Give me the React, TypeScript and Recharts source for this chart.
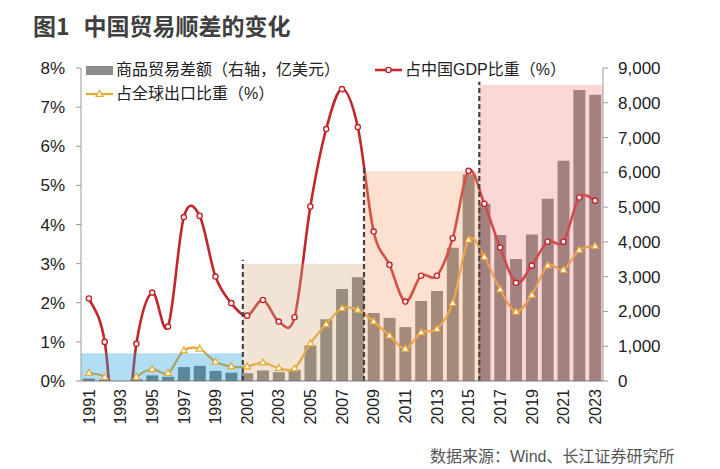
import React from 'react';
import { ComposedChart, Bar, Line, XAxis, YAxis, ReferenceArea, ReferenceLine } from 'recharts';

const years = [1991, 1992, 1993, 1994, 1995, 1996, 1997, 1998, 1999, 2000, 2001, 2002, 2003, 2004, 2005, 2006, 2007, 2008, 2009, 2010, 2011, 2012, 2013, 2014, 2015, 2016, 2017, 2018, 2019, 2020, 2021, 2022, 2023];
// 商品贸易差额（亿美元）
const tradeBalance = [70, 44, -122, 54, 160, 120, 400, 435, 290, 240, 225, 304, 255, 321, 1020, 1775, 2643, 2981, 1957, 1815, 1549, 2303, 2590, 3830, 5939, 5100, 4196, 3509, 4211, 5240, 6330, 8370, 8230];
// 占中国GDP比重（%）
const gdpShare = [2.11, 1.0, -2.7, 0.95, 2.26, 1.39, 4.19, 4.22, 2.67, 1.99, 1.67, 2.07, 1.52, 1.63, 4.46, 6.44, 7.46, 6.49, 3.82, 2.97, 2.03, 2.69, 2.69, 3.65, 5.37, 4.53, 3.41, 2.51, 2.95, 3.56, 3.56, 4.69, 4.61];
// 占全球出口比重（%）
const exportShare = [0.2, 0.1, -0.4, 0.1, 0.3, 0.2, 0.78, 0.82, 0.49, 0.37, 0.37, 0.47, 0.33, 0.32, 0.96, 1.45, 1.86, 1.82, 1.52, 1.16, 0.82, 1.24, 1.33, 1.99, 3.61, 3.17, 2.34, 1.77, 2.2, 2.95, 2.84, 3.35, 3.45];

const xTicks = [1991, 1993, 1995, 1997, 1999, 2001, 2003, 2005, 2007, 2009, 2011, 2013, 2015, 2017, 2019, 2021, 2023];
const leftTicks = [0, 1, 2, 3, 4, 5, 6, 7, 8];
const rightTicks = [0, 1000, 2000, 3000, 4000, 5000, 6000, 7000, 8000, 9000];

// 阶段划分
const periodStart = [1990.5, 2000.73, 2008.39, 2015.68];
const periodEnd = [2000.73, 2008.39, 2015.68, 2023.5];
const periodTop = [0.71, 3.0, 5.37, 7.57];
const periodColor = ['#23a1e0', '#d7b284', '#f6a679', '#f19090'];
const dividerYears = [2000.73, 2008.39, 2015.68];
const dividerTop = [3.1, 5.5, 7.65];

const rows = years.map((year, i) => ({
  year,
  balance: tradeBalance[i],
  gdp: gdpShare[i],
  exp: exportShare[i],
}));

const FONT = "'Liberation Sans', 'Noto Sans CJK SC', sans-serif";
const RED = '#C3252C';
const GOLD = '#E8A82E';

const smoothCurve: any = (context: any) => {
  let pts: number[][] = [];
  return {
    areaStart() {},
    areaEnd() {},
    lineStart() {
      pts = [];
    },
    point(x: number, y: number) {
      pts.push([+x, +y]);
    },
    lineEnd() {
      const n = pts.length;
      if (!n) return;
      context.moveTo(pts[0][0], pts[0][1]);
      for (let i = 0; i < n - 1; i++) {
        const p0 = pts[i - 1] || pts[i];
        const p1 = pts[i];
        const p2 = pts[i + 1];
        const p3 = pts[i + 2] || p2;
        context.bezierCurveTo(
          p1[0] + (p2[0] - p0[0]) / 6,
          p1[1] + (p2[1] - p0[1]) / 6,
          p2[0] - (p3[0] - p1[0]) / 6,
          p2[1] - (p3[1] - p1[1]) / 6,
          p2[0],
          p2[1]
        );
      }
    },
  };
};

const CircleDot = (props: any) => {
  const { cx, cy, index } = props;
  if (cx == null || cy == null || isNaN(cy)) return <g key={`c${index}`} />;
  return <circle key={`c${index}`} cx={cx} cy={cy} r={2.6} fill="#fff" stroke={RED} strokeWidth={1.4} />;
};

const TriDot = (props: any) => {
  const { cx, cy, index } = props;
  if (cx == null || cy == null || isNaN(cy)) return <g key={`t${index}`} />;
  const s = 3.6;
  return (
    <path
      key={`t${index}`}
      d={`M${cx},${cy - s} L${cx + s * 0.95},${cy + s * 0.65} L${cx - s * 0.95},${cy + s * 0.65} Z`}
      fill="#fff"
      stroke={GOLD}
      strokeWidth={1.2}
    />
  );
};

const XTick = (props: any) => {
  const { x, y, payload } = props;
  return (
    <text
      transform={`translate(${x},${y}) rotate(-90)`}
      textAnchor="end"
      dy="0.36em"
      fontSize={16}
      fill="#222"
      fontFamily={FONT}
    >
      {payload.value}
    </text>
  );
};

const legendText: React.CSSProperties = {
  position: 'absolute',
  fontSize: 16,
  lineHeight: '18px',
  color: '#222',
  fontFamily: FONT,
  whiteSpace: 'nowrap',
};

export default function App() {
  return (
    <div style={{ position: 'absolute', left: 0, top: 0, width: 720, height: 469, background: '#fff', overflow: 'hidden' }}>
      <div
        style={{
          position: 'absolute',
          left: 33,
          top: 12,
          fontSize: 23,
          lineHeight: '26px',
          fontWeight: 'bold',
          color: '#404040',
          fontFamily: "'Noto Sans CJK SC', sans-serif",
          whiteSpace: 'nowrap',
        }}
      >
        <span>图1</span>
        <span style={{ marginLeft: 14 }}>中国贸易顺差的变化</span>
      </div>
      <ComposedChart width={720} height={469} data={rows} margin={{ top: 68, right: 37, bottom: 38, left: 21 }}>
        <XAxis
          dataKey="year"
          type="number"
          domain={[1990.5, 2023.5]}
          ticks={xTicks}
          allowDataOverflow
          interval={0}
          height={50}
          tickSize={4}
          tickMargin={4}
          tickLine={false}
          tick={<XTick />}
          axisLine={{ stroke: '#7a7a7a', strokeWidth: 1.2 }}
        />
        <YAxis
          yAxisId="left"
          domain={[0, 8]}
          ticks={leftTicks}
          allowDataOverflow
          width={60}
          tickSize={5}
          tickMargin={11}
          tickFormatter={(v: number) => `${v}%`}
          tick={{ fontSize: 17, fill: '#222', fontFamily: FONT }}
          axisLine={{ stroke: '#999' }}
          tickLine={{ stroke: '#999' }}
        />
        <YAxis
          yAxisId="right"
          orientation="right"
          domain={[0, 9000]}
          ticks={rightTicks}
          allowDataOverflow
          width={80}
          tickSize={5}
          tickMargin={10}
          tickFormatter={(v: number) => v.toLocaleString('en-US')}
          tick={{ fontSize: 17, fill: '#222', fontFamily: FONT }}
          axisLine={{ stroke: '#999' }}
          tickLine={{ stroke: '#999' }}
        />
        <Bar yAxisId="right" dataKey="balance" fill="#7a7a7a" barSize={12} isAnimationActive={false} />
        <Line
          yAxisId="left"
          dataKey="exp"
          type={smoothCurve}
          stroke={GOLD}
          strokeWidth={2.2}
          dot={<TriDot />}
          activeDot={false}
          isAnimationActive={false}
        />
        <Line
          yAxisId="left"
          dataKey="gdp"
          type={smoothCurve}
          stroke={RED}
          strokeWidth={2.6}
          dot={<CircleDot />}
          activeDot={false}
          isAnimationActive={false}
        />
        {periodStart.map((s, i) => (
          <ReferenceArea
            key={`area${i}`}
            yAxisId="left"
            x1={s}
            x2={periodEnd[i]}
            y1={0}
            y2={periodTop[i]}
            fill={periodColor[i]}
            fillOpacity={0.35}
            stroke="none"
            zIndex={450}
          />
        ))}
        {dividerYears.map((d, i) => (
          <ReferenceLine
            key={`div${i}`}
            yAxisId="left"
            segment={[
              { x: d, y: 0 },
              { x: d, y: dividerTop[i] },
            ]}
            stroke="#444"
            strokeWidth={2.2}
            strokeDasharray="5 3"
            zIndex={460}
          />
        ))}
      </ComposedChart>

      {/* Legend */}
      <svg style={{ position: 'absolute', left: 0, top: 0 }} width={720} height={110}>
        <rect x={86} y={66} width={27} height={9} fill="#8c8c8c" />
        <line x1={375} y1={70} x2={402} y2={70} stroke={RED} strokeWidth={2.6} />
        <circle cx={388.5} cy={70} r={2.6} fill="#fff" stroke={RED} strokeWidth={1.4} />
        <line x1={86} y1={94} x2={113} y2={94} stroke={GOLD} strokeWidth={2.2} />
        <path d="M99.5,90.4 L102.9,96.3 L96.1,96.3 Z" fill="#fff" stroke={GOLD} strokeWidth={1.2} />
      </svg>
      <div style={{ ...legendText, left: 116, top: 61 }}>商品贸易差额（右轴，亿美元）</div>
      <div style={{ ...legendText, left: 405, top: 61 }}>占中国GDP比重（%）</div>
      <div style={{ ...legendText, left: 116, top: 85 }}>占全球出口比重（%）</div>

      <div
        style={{
          position: 'absolute',
          left: 430,
          top: 448,
          fontSize: 16,
          lineHeight: '18px',
          color: '#555',
          fontFamily: FONT,
          whiteSpace: 'nowrap',
        }}
      >
        数据来源：Wind、长江证券研究所
      </div>
    </div>
  );
}
